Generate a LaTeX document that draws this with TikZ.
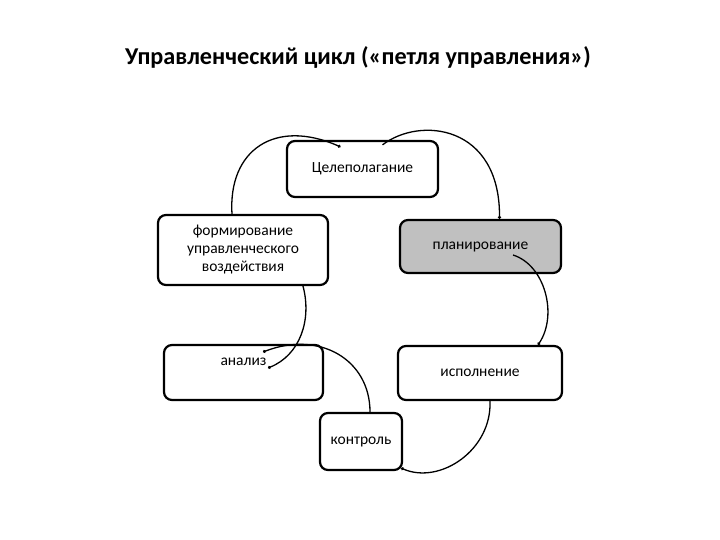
\documentclass[tikz,border=0pt]{standalone}
\usepackage{fontspec}
\setmainfont{Carlito}
\usetikzlibrary{arrows.meta}
\definecolor{planfill}{RGB}{192,192,192}
\tikzset{
  box/.style={draw=black, line width=2.2pt, rounded corners=8pt, align=center,
    font=\fontsize{15.5}{18}\selectfont, inner sep=2pt},
  conn/.style={line width=1.3pt, -{Circle[length=3pt]}},
}
\begin{document}
\begin{tikzpicture}[x=1pt, y=-1pt]
\useasboundingbox (0,0) rectangle (720,540);
\node[font=\fontsize{24.2}{28}\bfseries] (title) at (358,57) {Управленческий цикл («петля управления»)};
\node[box, minimum width=151pt, minimum height=56pt] (goal) at (362.5,169) {Целеполагание};
\node[box, minimum width=170pt, minimum height=70pt] (form) at (243,250) {формирование\\управленческого\\воздействия};
\node[box, fill=planfill, minimum width=161pt, minimum height=53pt] (plan) at (480.5,246.5) {планирование};
\node[box, minimum width=159pt, minimum height=55pt, text depth=22pt] (anal) at (243.5,372.5) {анализ};
\node[box, minimum width=164pt, minimum height=54pt] (exec) at (480,373) {исполнение};
\node[box, minimum width=82pt, minimum height=57pt] (ctrl) at (361,441.5) {контроль};

\draw[conn] ([xshift=-11pt]form.north) .. controls (228,150) and (275,118) .. ([xshift=-22pt,yshift=-7pt]goal.north);
\draw[conn] ([xshift=20pt,yshift=-5pt]goal.north) .. controls (420,116) and (500,125) .. ([xshift=19pt]plan.north);
\draw[conn] ([xshift=32.5pt,yshift=-8.5pt]plan.center) .. controls (545,265) and (558,315) .. ([xshift=58pt]exec.north);
\draw[conn] ([xshift=10pt]exec.south) .. controls (492,450) and (440,485) .. ([xshift=-2pt,yshift=3pt]ctrl.south east);
\draw[conn] ([xshift=9pt]ctrl.north) .. controls (370,360) and (320,330) .. ([xshift=19.5pt,yshift=20.5pt]anal.center);
\draw[conn] ([xshift=60pt]form.south) .. controls (312,320) and (300,355) .. ([xshift=24.5pt,yshift=4.5pt]anal.center);
\end{tikzpicture}
\end{document}
